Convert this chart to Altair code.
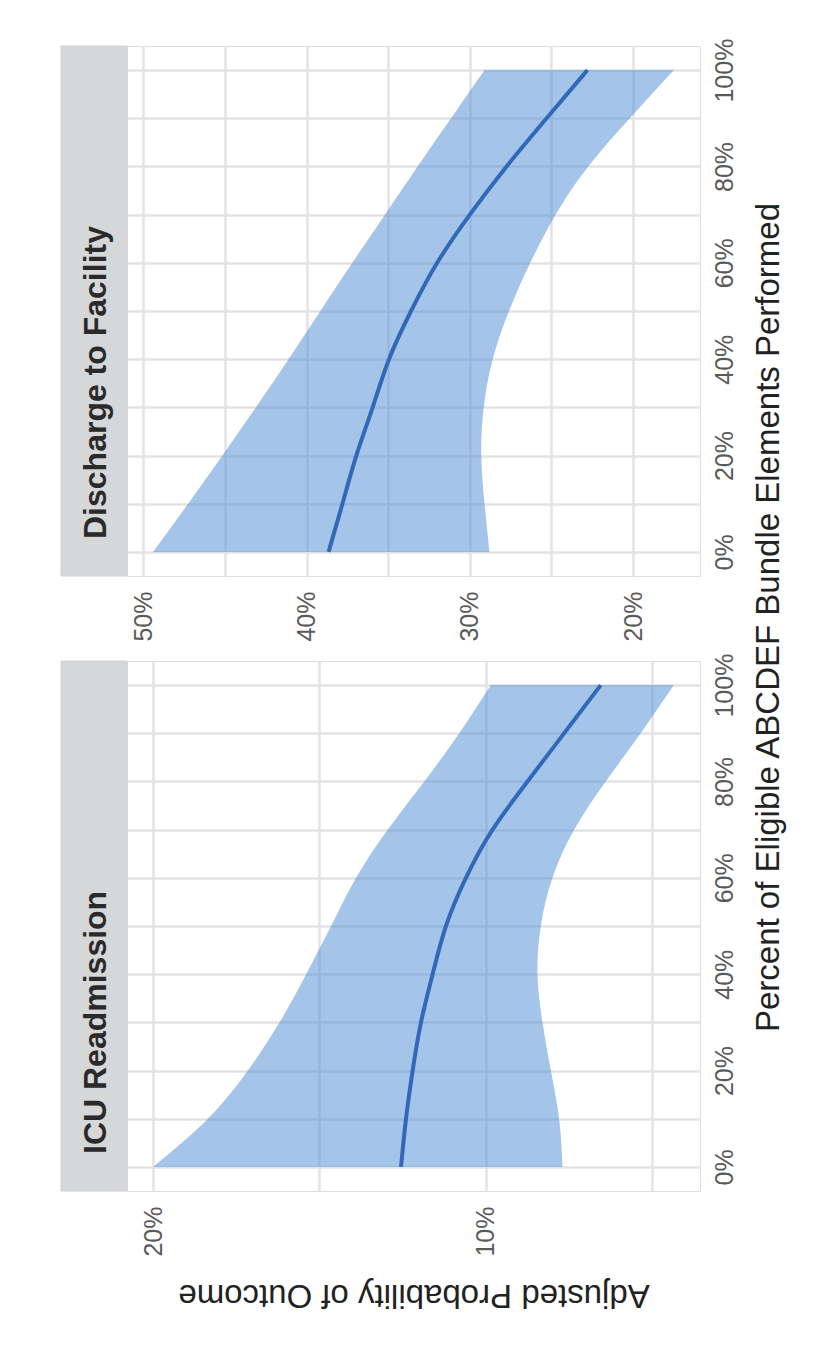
import altair as alt
import pandas as pd

# ---- data ----
pct = [0, 10, 20, 30, 40, 50, 60, 70, 80, 90, 100]

icu_fit = [12.55, 12.4, 12.2, 11.95, 11.6, 11.2, 10.6, 9.8, 8.75, 7.65, 6.55]
icu_lo = [7.7, 7.8, 8.05, 8.3, 8.45, 8.35, 8.0, 7.35, 6.4, 5.35, 4.35]
icu_hi = [20.0, 18.35, 17.15, 16.2, 15.4, 14.65, 13.9, 12.95, 11.85, 10.8, 9.85]

dis_fit = [38.65, 37.8, 36.95, 35.95, 34.95, 33.6, 32.0, 30.0, 27.75, 25.3, 22.8]
dis_lo = [28.8, 29.1, 29.3, 29.15, 28.6, 27.6, 26.3, 24.75, 22.75, 20.2, 17.5]
dis_hi = [49.4, 47.25, 45.15, 43.1, 41.1, 39.15, 37.2, 35.2, 33.2, 31.15, 29.1]

panel_names = ["Discharge to Facility", "ICU Readmission"]
dis_grid = [20, 25, 30, 35, 40, 45, 50]
icu_grid = [5, 10, 15, 20]
pct_grid = [0, 10, 20, 30, 40, 50, 60, 70, 80, 90, 100]
x_title = "Percent of Eligible ABCDEF Bundle Elements Performed"
y_title = "Adjusted Probability of Outcome"

# ---- styling ----
FONT = "Liberation Sans"
RIBBON = "#4a8ad6"
LINE = "#3169b8"
GRID = "#e3e3e3"
BORDER = "#d2d2d2"
STRIP = "#d6d7d9"
LABEL = "#5a5a5a"
TITLE = "#222222"
PW, PH = 573, 530
STRIP_W = 66
CURVE = "natural"


def panel(name, fit, lo, hi, grid_vals, show_titles):
    df = pd.DataFrame({"pct": pct, "fit": fit, "lo": lo, "hi": hi})
    dmin, dmax = min(lo), max(hi)
    r = dmax - dmin
    xscale = alt.Scale(domain=[dmin - 0.05 * r, dmax + 0.05 * r], reverse=True,
                       nice=False, zero=False)
    yscale = alt.Scale(domain=[-5, 105], nice=False, zero=False)

    xaxis_kw = dict(
        values=grid_vals,
        labelExpr="datum.value % 10 === 0 ? datum.value + '%' : ''",
        labelAngle=270, labelAlign="right", labelBaseline="middle",
        labelPadding=15, labelFontSize=25, labelColor=LABEL, labelFont=FONT,
        ticks=False, tickSize=0, domain=False,
        grid=True, gridColor=GRID, gridWidth=2.5,
    )
    if show_titles:
        xaxis = alt.Axis(title=y_title, titleAngle=180, titleBaseline="middle",
                         titleY=103, titleFontSize=33, titleFontWeight="normal",
                         titleColor=TITLE, titleFont=FONT, **xaxis_kw)
    else:
        xaxis = alt.Axis(title=None, **xaxis_kw)

    yaxis = alt.Axis(
        values=pct_grid, orient="right",
        labelExpr="datum.value % 20 === 0 ? datum.value + '%' : ''",
        labelAngle=270, labelAlign="center", labelBaseline="top",
        labelPadding=12, labelFontSize=25, labelColor=LABEL, labelFont=FONT,
        ticks=False, tickSize=0, domain=False,
        grid=True, gridColor=GRID, gridWidth=2.5, title=None,
    )

    base = alt.Chart(df)
    area = base.mark_area(orient="horizontal", interpolate=CURVE,
                          color=RIBBON, opacity=0.5).encode(
        x=alt.X("lo:Q", scale=xscale, axis=xaxis),
        x2="hi:Q",
        y=alt.Y("pct:Q", scale=yscale, axis=yaxis),
    )
    line = base.mark_line(interpolate=CURVE, color=LINE,
                          strokeWidth=4).encode(
        x=alt.X("fit:Q", scale=xscale, axis=xaxis),
        y=alt.Y("pct:Q", scale=yscale, axis=yaxis),
        order="pct:Q",
    )

    sdf = pd.DataFrame({"label": [name]})
    strip_rect = alt.Chart(sdf).mark_rect(color=STRIP, stroke=BORDER,
                                          strokeWidth=1).encode(
        x=alt.value(-STRIP_W), x2=alt.value(0),
        y=alt.value(0), y2=alt.value(PH),
    )
    strip_text = alt.Chart(sdf).mark_text(
        angle=270, align="left", baseline="alphabetic", fontSize=32,
        fontWeight="bold", font=FONT, color="#2a2a2a").encode(
        text="label:N", x=alt.value(-STRIP_W + 45), y=alt.value(PH - 37),
    )
    layers = [strip_rect, strip_text, area, line]
    if show_titles:
        tdf = pd.DataFrame({"t": [x_title]})
        ttext = alt.Chart(tdf).mark_text(
            angle=270, align="center", baseline="middle", fontSize=33,
            font=FONT, color=TITLE).encode(
            text="t:N", x=alt.value(642), y=alt.value(-43.5),
        )
        layers.append(ttext)
    return alt.layer(*layers).properties(width=PW, height=PH)


p_dis = panel(panel_names[0], dis_fit, dis_lo, dis_hi, dis_grid, False)
p_icu = panel(panel_names[1], icu_fit, icu_lo, icu_hi, icu_grid, True)

chart = alt.vconcat(p_dis, p_icu, spacing=85, bounds="flush").resolve_scale(
    x="independent", y="independent"
).properties(
    padding={"left": 52, "top": 29, "right": 5, "bottom": 5}
).configure_view(
    stroke=BORDER, strokeWidth=2
).configure(
    font=FONT, background="white"
)

chart.save("out.html", embed_options={"renderer": "svg", "actions": False})
